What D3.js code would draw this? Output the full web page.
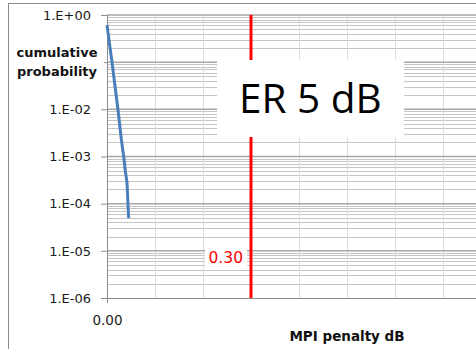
<!DOCTYPE html>
<html>
<head>
<meta charset="utf-8">
<script src="https://cdn.jsdelivr.net/npm/d3@7"></script>
<style>
  body { margin: 0; background: #fff; }
  svg { display: block; }
</style>
</head>
<body>
<div id="chart"></div>
<script>
// chart data
const mpiPenalty = [0, 0.0104, 0.0229, 0.030, 0.0348, 0.0383, 0.0417, 0.0438, 0.0452];
const cumProb = [0.614, 0.1, 0.0098, 0.00224, 0.001, 4.8e-4, 2.8e-4, 9.3e-5, 4.9e-5];
const yTicks = [1, 1e-1, 1e-2, 1e-3, 1e-4, 1e-5, 1e-6];
// the 1.E-01 label sits under the axis title in the original, so it is left blank
const yTickLabels = ["1.E+00", "", "1.E-02", "1.E-03", "1.E-04", "1.E-05", "1.E-06"];
const xTicks = [0];
const xTickLabels = ["0.00"];
const xGrid = [0.1, 0.2, 0.3, 0.4, 0.5, 0.6, 0.7];
const threshold = 0.30;
const thresholdLabel = "0.30";
const titleText = "ER 5 dB";

const WIDTH = 476, HEIGHT = 349;
const PLOT = {left: 107, top: 15, bottom: 298, right: 491};

const svg = d3.select("#chart").append("svg")
    .attr("width", WIDTH)
    .attr("height", HEIGHT);

// outer chart border (cropped on the right and bottom)
svg.append("rect")
    .attr("x", 8.5).attr("y", 3.5)
    .attr("width", 600).attr("height", 400)
    .attr("fill", "#fff")
    .attr("stroke", "#8c8c8c");

const X = d3.scaleLinear().domain([0, 0.8]).range([PLOT.left, PLOT.right]);
const Y = d3.scaleLog().domain([1e-6, 1]).range([PLOT.bottom, PLOT.top]);

// minor horizontal grid
const minors = [];
for (let e = -6; e < 0; e++) {
    for (let m = 2; m <= 9; m++) minors.push(m * Math.pow(10, e));
}
svg.append("g").selectAll("line").data(minors).enter().append("line")
    .attr("x1", PLOT.left).attr("x2", PLOT.right)
    .attr("y1", d => Math.round(Y(d)) + 0.5).attr("y2", d => Math.round(Y(d)) + 0.5)
    .attr("stroke", "#c4c4c4");

// vertical grid
svg.append("g").selectAll("line").data(xGrid).enter().append("line")
    .attr("x1", d => Math.round(X(d)) + 0.5).attr("x2", d => Math.round(X(d)) + 0.5)
    .attr("y1", PLOT.top).attr("y2", PLOT.bottom)
    .attr("stroke", "#dcdcdc");

// major horizontal grid
svg.append("g").selectAll("line").data(yTicks.slice(0, -1)).enter().append("line")
    .attr("x1", PLOT.left).attr("x2", PLOT.right)
    .attr("y1", d => Y(d)).attr("y2", d => Y(d))
    .attr("stroke", "#a6a6a6").attr("stroke-width", 1.5);

// y axis
const yAxis = svg.append("g")
    .attr("transform", "translate(" + PLOT.left + ",0)")
    .call(d3.axisLeft(Y).tickValues(yTicks)
        .tickFormat((d, i) => yTickLabels[i]).tickSize(6).tickPadding(10));
yAxis.select(".domain").attr("stroke", "#8c8c8c");
yAxis.selectAll(".tick line").attr("stroke", "#8c8c8c");
yAxis.selectAll("text")
    .attr("font-family", "DejaVu Sans").attr("font-size", 13).attr("fill", "#1a1a1a");

// x axis
const xAxis = svg.append("g")
    .attr("transform", "translate(0," + PLOT.bottom + ")")
    .call(d3.axisBottom(X).tickValues(xTicks)
        .tickFormat((d, i) => xTickLabels[i]).tickSize(5).tickPadding(12).tickSizeOuter(0));
xAxis.select(".domain").attr("stroke", "#8c8c8c");
xAxis.selectAll(".tick line").attr("stroke", "#8c8c8c");
xAxis.selectAll("text")
    .attr("font-family", "DejaVu Sans").attr("font-size", 13.5).attr("fill", "#1a1a1a");

// threshold line
svg.append("line")
    .attr("x1", X(threshold)).attr("x2", X(threshold))
    .attr("y1", Y(1)).attr("y2", Y(1e-6))
    .attr("stroke", "#ff0000").attr("stroke-width", 3);

// threshold data label
svg.append("rect")
    .attr("x", 205).attr("y", 249).attr("width", 42).attr("height", 19)
    .attr("fill", "#fff");
svg.append("text")
    .attr("x", X(threshold) - 8).attr("y", 263)
    .attr("text-anchor", "end")
    .attr("font-family", "DejaVu Sans").attr("font-size", 15.5)
    .attr("fill", "#ff0000")
    .text(thresholdLabel);

// the curve
const line = d3.line()
    .x((d, i) => X(mpiPenalty[i]))
    .y(d => Y(d));
svg.append("path")
    .datum(cumProb)
    .attr("d", line)
    .attr("fill", "none")
    .attr("stroke", "#4a7ebb")
    .attr("stroke-width", 3);

// y axis title
svg.append("rect")
    .attr("x", 10).attr("y", 41).attr("width", 94).attr("height", 42)
    .attr("fill", "#fff");
svg.append("text")
    .attr("x", 57).attr("y", 57)
    .attr("text-anchor", "middle")
    .attr("font-family", "DejaVu Sans").attr("font-weight", "bold").attr("font-size", 13)
    .attr("fill", "#111")
    .selectAll("tspan").data(["cumulative", "probability"]).enter().append("tspan")
        .attr("x", 57).attr("dy", (d, i) => i === 0 ? 0 : 19)
        .text(d => d);

// x axis title
svg.append("text")
    .attr("x", 347).attr("y", 341)
    .attr("text-anchor", "middle")
    .attr("font-family", "DejaVu Sans").attr("font-weight", "bold").attr("font-size", 13.5)
    .attr("fill", "#111")
    .text("MPI penalty dB");

// big title box
svg.append("rect")
    .attr("x", 217).attr("y", 60).attr("width", 187).attr("height", 77)
    .attr("fill", "#fff");
svg.append("text")
    .attr("x", 239).attr("y", 113)
    .attr("font-family", "Open Sans").attr("font-size", 40.5)
    .attr("fill", "#000")
    .text(titleText);
</script>
</body>
</html>
